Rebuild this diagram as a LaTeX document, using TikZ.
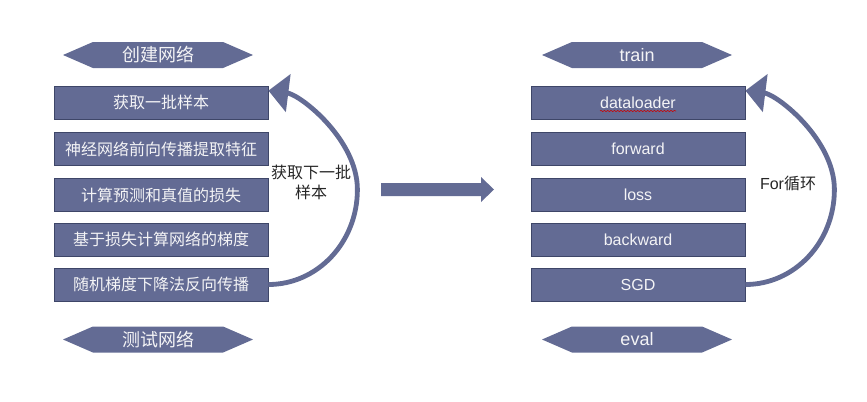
\documentclass[tikz,border=0pt]{standalone}
\usepackage{fontspec}
\setmainfont{Liberation Sans}
\newfontfamily\cjk{Noto Sans CJK SC}
\usetikzlibrary{arrows.meta,shapes.symbols,calc,decorations.pathmorphing}
\definecolor{slate}{RGB}{99,107,148}
\definecolor{slateline}{RGB}{62,70,104}
\definecolor{paper}{RGB}{244,244,246}
\tikzset{
  >=latex,
  x=0.75pt, y=-0.75pt,
}
\tikzstyle{stepbox}=[draw=slateline, fill=slate, text=paper, line width=0.6pt, minimum width=160.5pt, minimum height=24.75pt, inner sep=0pt, font=\fontsize{12pt}{14pt}\selectfont]
\tikzstyle{phase}=[signal, signal to=west and east, signal pointer angle=47, fill=slate, text=paper, minimum width=142.5pt, minimum height=19.5pt, inner sep=0pt, font=\fontsize{13.5pt}{15pt}\selectfont]
\tikzstyle{loop}=[draw=slate, line width=3.6pt, -{Triangle[length=15pt,width=28pt]}]
\tikzstyle{note}=[text=black!85, align=center, font=\fontsize{12pt}{15pt}\selectfont]

\begin{document}
\begin{tikzpicture}
    \useasboundingbox (0,0) rectangle (867,401);
    % left: create network
    \node[phase] (build) at (158,55) {\cjk 创建网络};
    \node[stepbox] (batch) at (161,102.5) {\cjk 获取一批样本};
    \node[stepbox] (feat) at (161,149) {\cjk 神经网络前向传播提取特征};
    \node[stepbox] (lossL) at (161,195) {\cjk 计算预测和真值的损失};
    \node[stepbox] (grad) at (161,239.5) {\cjk 基于损失计算网络的梯度};
    \node[stepbox] (sgdL) at (161,284.5) {\cjk 随机梯度下降法反向传播};
    \node[phase] (test) at (158,339.5) {\cjk 测试网络};
    \node[note] (nextbatch) at (311,182) {\cjk 获取下一批\\ \cjk 样本};
    \draw[loop] (sgdL.east) .. controls +(49,0) and +(0,53) .. ++(89,-95)
        .. controls +(0,-50) and +(32,4) .. ($(batch.north east)+(0,5)$);
    % middle arrow
    \fill[slate] (381,183) -- (481,183) -- (481,177) -- (494,189.5) -- (481,202) -- (481,196) -- (381,196) -- cycle;
    % right: train
    \node[phase] (train) at (637,55) {train};
    \node[stepbox] (loader) at (638,102.5) {dataloader};
    \node[stepbox] (forward) at (638,149) {forward};
    \node[stepbox] (loss) at (638,195) {loss};
    \node[stepbox] (backward) at (638,239.5) {backward};
    \node[stepbox] (sgd) at (638,284.5) {SGD};
    \node[phase] (eval) at (637,339.5) {eval};
    \node[note] (forloop) at (788,183) {For{\cjk 循环}};
    \draw[loop] (sgd.east) .. controls +(49,0) and +(0,53) .. ++(89,-95)
        .. controls +(0,-50) and +(32,4) .. ($(loader.north east)+(0,5)$);
    \draw[red!80!black, line width=0.4pt, decorate, decoration={snake, amplitude=0.5pt, segment length=2.5pt}]
        ($(loader.center)+(-38,8.5)$) -- ($(loader.center)+(38,8.5)$);
  \end{tikzpicture}
\end{document}
